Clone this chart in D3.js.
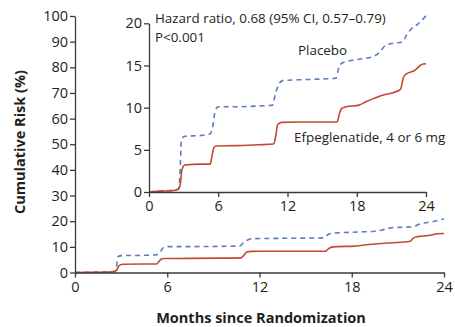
<!DOCTYPE html>
<html>
<head>
<meta charset="utf-8">
<script src="https://cdn.jsdelivr.net/npm/d3@7"></script>
<style>
  body { margin: 0; background: #fff; }
  text { font-family: "Open Sans", sans-serif; fill: #231f20; }
</style>
</head>
<body>
<svg width="455" height="327" id="mainsvg"></svg>
<script>
// months, cumulative risk (%)
const placeboMonths = [0, 1, 2, 2.55, 2.7, 2.8, 3.1, 4.5, 5.3, 5.5, 5.75, 6.0, 7.5, 9.5, 10.7, 10.95, 11.3, 11.6, 13, 15, 16.2, 16.45, 16.75, 17.2, 18.5, 19.5, 20.0, 20.5, 21, 22.0, 22.3, 22.7, 23.3, 24];
const placeboRisk   = [0, 0.1, 0.2, 0.35, 2.5, 6.2, 6.6, 6.7, 6.9, 7.6, 9.7, 10.1, 10.1, 10.2, 10.3, 11.6, 12.9, 13.2, 13.3, 13.4, 13.5, 14.8, 15.3, 15.5, 15.8, 16.1, 16.6, 17.4, 17.6, 17.8, 18.6, 19.3, 19.9, 20.9];
const efpegMonths = [0, 1, 2, 2.5, 2.7, 2.85, 3.1, 4.5, 5.3, 5.45, 5.6, 5.8, 7.5, 9.5, 10.8, 11.0, 11.15, 11.5, 13, 15, 16.3, 16.5, 16.7, 17.1, 18.2, 18.8, 19.5, 20.3, 21.2, 21.8, 22.05, 22.3, 23.0, 23.6, 24];
const efpegRisk   = [0, 0.1, 0.15, 0.3, 0.8, 2.6, 3.2, 3.3, 3.3, 4.2, 5.2, 5.45, 5.5, 5.6, 5.7, 6.8, 8.0, 8.25, 8.3, 8.3, 8.3, 9.3, 9.9, 10.1, 10.3, 10.7, 11.1, 11.5, 11.8, 12.2, 13.6, 14.0, 14.4, 15.1, 15.2];

const xTicks = [0, 6, 12, 18, 24];
const mainYTicks = [0, 10, 20, 30, 40, 50, 60, 70, 80, 90, 100];
const insetYTicks = [0, 5, 10, 15, 20];

const series = [
  { name: 'Placebo', months: placeboMonths, risk: placeboRisk, color: '#5b7cc4', dash: '5,4' },
  { name: 'Efpeglenatide, 4 or 6 mg', months: efpegMonths, risk: efpegRisk, color: '#c2492f', dash: null }
];

const svg = d3.select('svg');
const axisColor = '#3a3a3a';

function styleAxis(g) {
  g.selectAll('path.domain').attr('stroke', axisColor).attr('stroke-width', 1.3);
  g.selectAll('.tick line').attr('stroke', axisColor).attr('stroke-width', 1.3);
  g.selectAll('.tick text').attr('font-size', 14.5).attr('fill', '#231f20')
    .style('font-family', '"Open Sans", sans-serif');
}

function drawPanel(x0, x1, y0, y1, yMax, yTicks) {
  const x = d3.scaleLinear().domain([0, 24]).range([x0, x1]);
  const y = d3.scaleLinear().domain([0, yMax]).range([y0, y1]);
  const line = d3.line().x(d => x(d[0])).y(d => y(d[1])).curve(d3.curveMonotoneX);

  series.forEach(s => {
    const pts = s.months.map((m, i) => [m, s.risk[i]]);
    svg.append('path').datum(pts)
      .attr('d', line)
      .attr('fill', 'none')
      .attr('stroke', s.color)
      .attr('stroke-width', 1.6)
      .attr('stroke-dasharray', s.dash);
  });

  svg.append('g').attr('transform', `translate(0,${y0})`)
    .call(d3.axisBottom(x).tickValues(xTicks).tickSize(5).tickSizeOuter(0).tickPadding(4))
    .call(styleAxis);
  svg.append('g').attr('transform', `translate(${x0},0)`)
    .call(d3.axisLeft(y).tickValues(yTicks).tickSize(5).tickSizeOuter(0).tickPadding(2))
    .call(styleAxis);
  return { x, y };
}

// main panel
drawPanel(75, 444, 272.5, 16, 100, mainYTicks);
// inset panel
drawPanel(149, 426, 192, 23.3, 20, insetYTicks);

// axis titles
svg.append('text').attr('x', 261).attr('y', 323)
  .attr('text-anchor', 'middle').attr('font-size', 14.5).attr('font-weight', 'bold')
  .text('Months since Randomization');
svg.append('text').attr('transform', 'translate(25,142) rotate(-90)')
  .attr('text-anchor', 'middle').attr('font-size', 14.5).attr('font-weight', 'bold')
  .text('Cumulative Risk (%)');

// annotations in the inset
svg.append('text').attr('x', 155).attr('y', 23).attr('font-size', 13.4)
  .text('Hazard ratio, 0.68 (95% CI, 0.57\u20130.79)');
svg.append('text').attr('x', 155).attr('y', 42).attr('font-size', 13.4)
  .text('P<0.001');
svg.append('text').attr('x', 298).attr('y', 55).attr('font-size', 13.4)
  .text('Placebo');
svg.append('text').attr('x', 294).attr('y', 142).attr('font-size', 13.4)
  .text('Efpeglenatide, 4 or 6 mg');
</script>
</body>
</html>
